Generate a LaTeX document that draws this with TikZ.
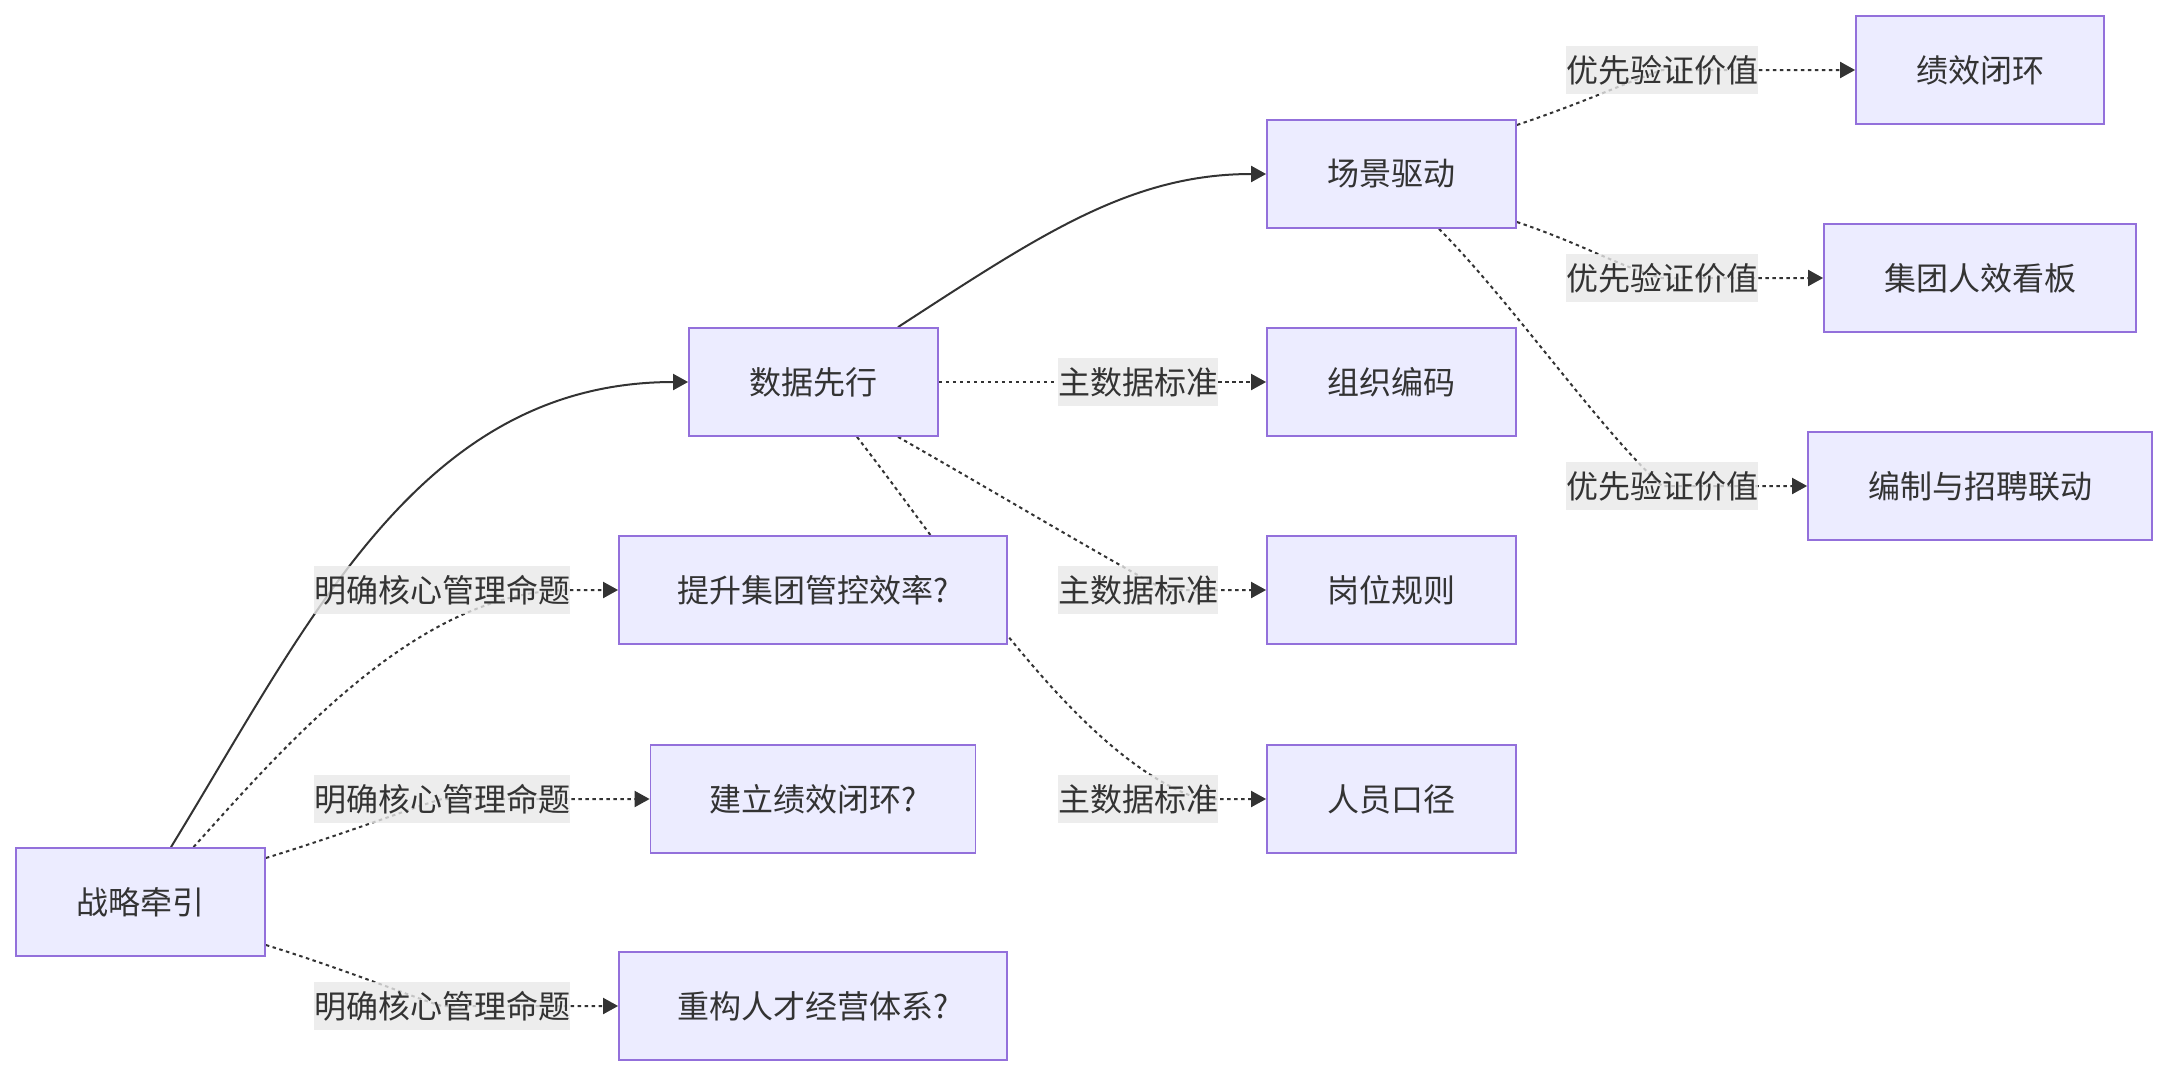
\documentclass[tikz,border=0pt]{standalone}
\usepackage{fontspec}
\setmainfont{Noto Sans CJK SC}
\usetikzlibrary{arrows.meta}
\definecolor{nfill}{HTML}{ECECFF}
\definecolor{nborder}{HTML}{9370DB}
\definecolor{ecol}{HTML}{333333}
\definecolor{lbg}{HTML}{E8E8E8}
\pgfdeclarelayer{edgelayer}
\pgfsetlayers{edgelayer,main}
\begin{document}
\begin{tikzpicture}[x=1pt,y=-1pt,
  box/.style={draw=nborder,line width=1.8pt,fill=nfill,minimum height=108pt,inner sep=0pt,text=ecol,font=\fontsize{32pt}{40pt}\selectfont},
  elabel/.style={fill=lbg,fill opacity=0.8,text opacity=1,minimum height=48pt,inner xsep=0pt,inner ysep=0pt,text=ecol,font=\fontsize{32pt}{40pt}\selectfont},
  link/.style={draw=ecol,line width=2pt,-{Triangle[length=15pt,width=16pt]}},
  dotlink/.style={link,dash pattern=on 3.5pt off 3.5pt}
]
\useasboundingbox (0,0) rectangle (2167,1076);

% nodes
\node[box,minimum width=249pt] (zl) at (140.5,902) {战略牵引};
\node[box,minimum width=388pt] (ts) at (813,590) {提升集团管控效率?};
\node[box,minimum width=325pt] (jl) at (813,799) {建立绩效闭环?};
\node[box,minimum width=388pt] (cg) at (813,1006) {重构人才经营体系?};
\node[box,minimum width=249pt] (sj) at (813.5,382) {数据先行};
\node[box,minimum width=249pt] (cj) at (1391.5,174) {场景驱动};
\node[box,minimum width=249pt] (zz) at (1391.5,382) {组织编码};
\node[box,minimum width=249pt] (gw) at (1391.5,590) {岗位规则};
\node[box,minimum width=249pt] (ry) at (1391.5,799) {人员口径};
\node[box,minimum width=248pt] (jx) at (1980,70) {绩效闭环};
\node[box,minimum width=312pt] (kb) at (1980,278) {集团人效看板};
\node[box,minimum width=344pt] (bz) at (1980,486) {编制与招聘联动};

% edge labels
\node[elabel] (l1) at (442,590) {明确核心管理命题};
\node[elabel] (l2) at (442,799) {明确核心管理命题};
\node[elabel] (l3) at (442,1006) {明确核心管理命题};
\node[elabel] (m1) at (1138,382) {主数据标准};
\node[elabel] (m2) at (1138,590) {主数据标准};
\node[elabel] (m3) at (1138,799) {主数据标准};
\node[elabel] (p1) at (1662,70) {优先验证价值};
\node[elabel] (p2) at (1662,278) {优先验证价值};
\node[elabel] (p3) at (1662,486) {优先验证价值};

\begin{pgfonlayer}{edgelayer}
\draw[link] ([xshift=30.5pt]zl.north) .. controls (310,620) and (420,382) .. (sj.west);
\draw[dotlink] ([xshift=53pt]zl.north) .. controls (290,740) and (420,590) .. (l1.east) -- (ts.west);
\draw[dotlink] ([yshift=44pt]zl.east) .. controls (350,832) and (420,805) .. (l2.center) -- (jl.west);
\draw[dotlink] ([yshift=-43pt]zl.east) .. controls (350,971) and (420,1000) .. (l3.center) -- (cg.west);

\draw[link] ([xshift=84.5pt]sj.north) .. controls (1040,235) and (1130,174) .. (cj.west);
\draw[dotlink] (sj.east) -- (m1) -- (zz.west);
\draw[dotlink] ([xshift=84.5pt]sj.south) .. controls (1000,495) and (1100,555) .. ([xshift=27pt]m2.center) -- (gw.west);
\draw[dotlink] ([xshift=43.5pt]sj.south) .. controls (960,570) and (1080,760) .. ([xshift=62pt]m3.center) -- (ry.west);

\draw[dotlink] ([yshift=49pt]cj.east) .. controls (1585,102) and (1620,85) .. (p1.center) -- (jx.west);
\draw[dotlink] ([yshift=-48pt]cj.east) .. controls (1585,245) and (1620,267) .. (p2.center) -- (kb.west);
\draw[dotlink] ([xshift=47.5pt]cj.south) .. controls (1510,300) and (1600,430) .. (p3.center) -- (bz.west);
\end{pgfonlayer}
\end{tikzpicture}
\end{document}
